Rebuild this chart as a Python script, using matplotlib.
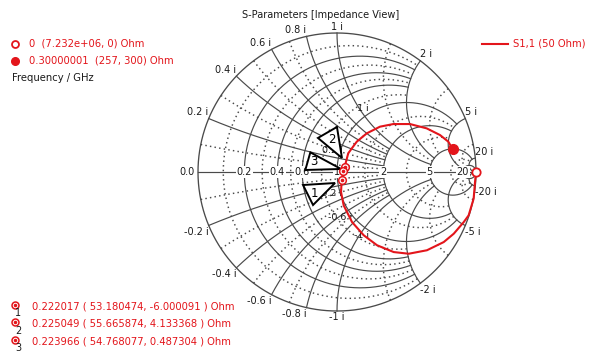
import numpy as np
import matplotlib
matplotlib.use("Agg")
import matplotlib.pyplot as plt
from matplotlib.patches import Polygon

plt.rcParams['font.family'] = ['DejaVu Sans']

# ---------------- data ----------------
title = "S-Parameters [Impedance View]"
trace_label = "S1,1 (50 Ohm)"
z0 = 50.0
# S11 trace (reflection coefficient), freq 0 -> 0.3 GHz
s11_re = [1.000, 0.993, 0.983, 0.947, 0.912, 0.840, 0.768, 0.647, 0.516, 0.408,
          0.288, 0.192, 0.108, 0.048, 0.029, 0.034, 0.045, 0.055, 0.081, 0.142,
          0.214, 0.309, 0.405, 0.525, 0.645, 0.741, 0.801, 0.833]
s11_im = [0.000, -0.072, -0.192, -0.312, -0.360, -0.444, -0.504, -0.563, -0.588, -0.576,
          -0.527, -0.455, -0.360, -0.240, -0.144, -0.056, 0.004, 0.037, 0.135, 0.218,
          0.278, 0.326, 0.345, 0.345, 0.314, 0.266, 0.218, 0.163]
# end markers
end_freqs = ["0", "0.30000001"]
end_imp = [("7.232e+06", "0"), ("257", "300")]
end_R = [7.232e6, 257.0]
end_X = [0.0, 300.0]
# numbered markers
mk_ids = ["1", "2", "3"]
mk_freq = ["0.222017", "0.225049", "0.223966"]
mk_R = [53.180474, 55.665874, 54.768077]
mk_X = [-6.000091, 4.133368, 0.487304]
freq_label = "Frequency / GHz"

# grid values
solid_r = [0.2, 0.4, 0.6, 1, 2, 5, 20]
dotted_r = [0.1, 0.3, 0.5, 0.8, 1.5, 3, 10]
solid_x = [0.2, 0.4, 0.6, 0.8, 1, 2, 5, 20]
dotted_x = [0.1, 0.3, 0.5, 0.7, 1.5, 3, 10]
axis_labels = [0.2, 0.4, 0.6, 1, 2, 5, 20]
inner_x_labels = [1, 0.2, -0.2, -0.6, -1]

# ---------------- layout ----------------
W, H = 600, 363
CX, CY, RAD = 337, 172, 139
RED = '#e3151b'
GRID = '#4a4a4a'

fig = plt.figure(figsize=(W / 100, H / 100), dpi=100)
ax = fig.add_axes([0, 0, 1, 1])
ax.set_xlim(-CX / RAD, (W - CX) / RAD)
ax.set_ylim(-(H - CY) / RAD, CY / RAD)
ax.axis('off')


def px(x, y):
    return (x - CX) / RAD, (CY - y) / RAD


def gamma(z):
    return (z - 1) / (z + 1)


def r_xlim(r):
    if r < 1:
        return 2.0
    if r < 5:
        return 5.0
    if r < 20:
        return 20.0
    return 1e5


def x_rlim(x):
    x = abs(x)
    if x < 1:
        return 2.0
    if x < 5:
        return 5.0
    if x < 20:
        return 20.0
    return 1e5


def draw_r(r, **kw):
    X = r_xlim(r)
    t = np.linspace(-np.arctan(X), np.arctan(X), 600)
    g = gamma(r + 1j * np.tan(t))
    ax.plot(g.real, g.imag, **kw)


def draw_x(x, **kw):
    R = x_rlim(x)
    t = np.linspace(0, np.arctan(R), 600)
    g = gamma(np.tan(t) + 1j * x)
    ax.plot(g.real, g.imag, **kw)


solid_kw = dict(color=GRID, lw=0.85, zorder=1)
dot_kw = dict(color=GRID, lw=1.05, ls=(0, (1, 2.2)), zorder=1)

th = np.linspace(0, 2 * np.pi, 800)
ax.plot(np.cos(th), np.sin(th), color=GRID, lw=0.95, zorder=1)
ax.plot([-1, 1], [0, 0], color=GRID, lw=0.85, zorder=1)
for r in solid_r:
    draw_r(r, **solid_kw)
for r in dotted_r:
    draw_r(r, **dot_kw)
for x in solid_x:
    draw_x(x, **solid_kw)
    draw_x(-x, **solid_kw)
for x in dotted_x:
    draw_x(x, **dot_kw)
    draw_x(-x, **dot_kw)

# axis labels
lab_kw = dict(fontsize=7, color='#1a1a1a', zorder=3)
ax.text(-1 - 3 / RAD, 0, "0.0", ha='right', va='center', **lab_kw)
for r in axis_labels:
    g = gamma(r)
    ax.text(g.real, 0, f"{r:g}", ha='center', va='center',
            bbox=dict(boxstyle='square,pad=0.08', fc='white', ec='none'), **lab_kw)

# outer reactance labels
for x in solid_x:
    for s in (1, -1):
        g = gamma(1j * s * x)
        gx, gy = g.real, g.imag
        txt = f"{s * x:g} i"
        if abs(gx) < 1e-6:
            ha = 'center'
        elif gx < 0:
            ha = 'right'
        else:
            ha = 'left'
        va = 'bottom' if s > 0 else 'top'
        dy = 1.5 / RAD * s
        ax.text(gx, gy + dy, txt, ha=ha, va=va, **lab_kw)

# inner labels on r=1 circle
for x in inner_x_labels:
    g = gamma(1 + 1j * x)
    va = 'bottom' if x > 0 else 'top'
    dy = 3 / RAD * (1 if x > 0 else -1)
    ax.text(g.real + 4 / RAD, g.imag + dy, f"{x:g} i", ha='right', va=va,
            fontsize=6.8, color='#1a1a1a', zorder=3)

# ---------------- trace ----------------
ax.plot(s11_re, s11_im, color=RED, lw=1.5, zorder=4)

end_g = [gamma(complex(R, X) / z0) for R, X in zip(end_R, end_X)]
ax.plot(end_g[0].real, end_g[0].imag, 'o', ms=6, mfc='white', mec=RED, mew=1.3, zorder=6)
ax.plot(end_g[1].real, end_g[1].imag, 'o', ms=7, mfc=RED, mec=RED, zorder=6)

mk_g = [gamma(complex(R, X) / z0) for R, X in zip(mk_R, mk_X)]
for g in mk_g:
    ax.plot(g.real, g.imag, 'o', ms=5.5, mfc='white', mec=RED, mew=1.1, zorder=6)
    ax.plot(g.real, g.imag, 'o', ms=1.6, mfc=RED, mec=RED, zorder=7)

# marker callout triangles (pixel offsets from marker)
tri_off = {
    "1": [(-38.7, 5.2), (-6.7, 3.2), (-28.7, 25.2)],
    "2": [(-26.7, -28.9), (-7.7, -39.9), (-2.7, -8.9)],
    "3": [(-33, -19), (-38, -1.4), (-2.3, -2.4)],
}
num_off = {"1": (-27.5, 13.5), "2": (-12.5, -27), "3": (-29.5, -9.5)}
for mid, g in zip(mk_ids, mk_g):
    gx, gy = g.real, g.imag
    verts = [(gx + dx / RAD, gy - dy / RAD) for dx, dy in tri_off[mid]]
    ax.add_patch(Polygon(verts, closed=True, fc='white', ec='black', lw=1.4, zorder=5))
    dx, dy = num_off[mid]
    ax.text(gx + dx / RAD, gy - dy / RAD, mid, fontsize=8.5, ha='center', va='center',
            color='black', zorder=6)

# ---------------- texts ----------------
ax.text(*px(321, 15), title, fontsize=7, ha='center', va='center', color='#1a1a1a')

# top-left end-marker legend
ax.plot(*px(15, 43.5), 'o', ms=5, mfc='white', mec=RED, mew=1.3, clip_on=False)
ax.plot(*px(15, 60.5), 'o', ms=5.5, mfc=RED, mec=RED, clip_on=False)
for i, (f, (zr, zx)) in enumerate(zip(end_freqs, end_imp)):
    ax.text(*px(29, 43.5 + 17.3 * i), f"{f}  ({zr}, {zx}) Ohm", fontsize=7.2,
            ha='left', va='center', color=RED)
ax.text(*px(12, 78), freq_label, fontsize=7.2, ha='left', va='center', color='#1a1a1a')

# top-right trace legend
x0, y0 = px(482, 43.5)
x1, _ = px(508, 43.5)
ax.plot([x0, x1], [y0, y0], color=RED, lw=1.5)
ax.text(*px(513, 43.5), trace_label, fontsize=7.2, ha='left', va='center', color=RED)

# bottom marker legend
for i, (mid, f, R, X) in enumerate(zip(mk_ids, mk_freq, mk_R, mk_X)):
    yy = 306.5 + 17.3 * i
    ax.plot(*px(15, yy - 1.5), 'o', ms=5, mfc='white', mec=RED, mew=1.1)
    ax.plot(*px(15, yy - 1.5), 'o', ms=1.5, mfc=RED, mec=RED)
    ax.text(*px(18.5, yy + 7), mid, fontsize=7, ha='center', va='center', color='#1a1a1a')
    ax.text(*px(32, yy), f"{f} ( {R:.6f}, {X:.6f} ) Ohm", fontsize=7.2,
            ha='left', va='center', color=RED)

fig.savefig("out.png", dpi=100)
